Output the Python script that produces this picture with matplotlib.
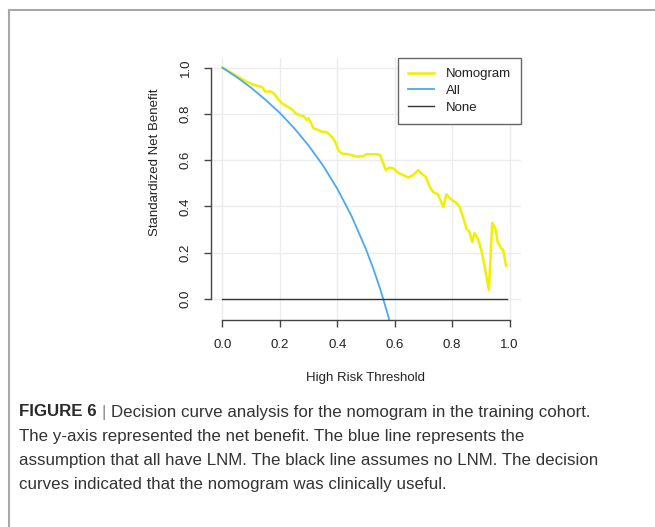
import numpy as np
import matplotlib
matplotlib.use("Agg")
import matplotlib.pyplot as plt

plt.rcParams['font.family'] = ['Liberation Sans', 'DejaVu Sans']

# nomogram curve
thr_nomo = [0.0, 0.086, 0.109, 0.138, 0.149, 0.167, 0.178, 0.196, 0.207, 0.225,
            0.242, 0.254, 0.271, 0.282, 0.294, 0.300, 0.317, 0.334, 0.346, 0.363,
            0.381, 0.392, 0.404, 0.415, 0.433, 0.450, 0.468, 0.491, 0.502, 0.520,
            0.537, 0.549, 0.560, 0.569, 0.581, 0.595, 0.612, 0.630, 0.647, 0.664,
            0.682, 0.693, 0.708, 0.722, 0.734, 0.751, 0.769, 0.780, 0.797, 0.815,
            0.826, 0.838, 0.850, 0.861, 0.870, 0.878, 0.890, 0.902, 0.913, 0.928,
            0.940, 0.951, 0.959, 0.970, 0.978, 0.988]
nb_nomo = [1.0, 0.938, 0.926, 0.916, 0.897, 0.897, 0.890, 0.861, 0.846, 0.832,
           0.820, 0.803, 0.793, 0.791, 0.774, 0.781, 0.738, 0.730, 0.723, 0.721,
           0.701, 0.680, 0.643, 0.629, 0.626, 0.622, 0.615, 0.618, 0.626, 0.625,
           0.626, 0.622, 0.586, 0.557, 0.568, 0.564, 0.545, 0.535, 0.525, 0.535,
           0.557, 0.542, 0.528, 0.484, 0.462, 0.452, 0.397, 0.452, 0.429, 0.415,
           0.397, 0.354, 0.303, 0.288, 0.245, 0.284, 0.259, 0.209, 0.143, 0.038,
           0.328, 0.303, 0.245, 0.220, 0.211, 0.143]

# treat-all curve
thr_all = [0.0, 0.05, 0.10, 0.15, 0.20, 0.25, 0.30, 0.35, 0.40, 0.45, 0.50,
           0.525, 0.55, 0.575, 0.60]
nb_all = [1.0, 0.959, 0.913, 0.861, 0.804, 0.738, 0.663, 0.577, 0.476, 0.357,
          0.214, 0.132, 0.040, -0.064, -0.179]

# treat-none
thr_none = [0.0, 0.99]
nb_none = [0.0, 0.0]

ticks = [0.0, 0.2, 0.4, 0.6, 0.8, 1.0]
tick_labels = ["0.0", "0.2", "0.4", "0.6", "0.8", "1.0"]

W, H = 655, 527
fig = plt.figure(figsize=(W / 100, H / 100), dpi=100)

ax = fig.add_axes([211 / W, 1 - 320 / H, 310 / W, 262 / H])
ax.set_xlim(-0.04, 1.04)
ax.set_ylim(-0.092, 1.042)

for t in ticks:
    ax.axvline(t, color='#ececec', lw=1.0, zorder=0)
    ax.axhline(t, color='#ececec', lw=1.0, zorder=0)

ax.plot(thr_nomo, nb_nomo, color='#f2ef00', lw=1.8, label='Nomogram')
ax.plot(thr_all, nb_all, color='#4aa8f5', lw=1.3, label='All')
ax.plot(thr_none, nb_none, color='#333333', lw=1.0, label='None')

# R-style detached axes
ax.spines['top'].set_visible(False)
ax.spines['right'].set_visible(False)
ax.spines['left'].set_bounds(0, 1)
ax.spines['bottom'].set_bounds(0, 1)
for s in ['left', 'bottom']:
    ax.spines[s].set_color('#444444')
    ax.spines[s].set_linewidth(1.0)

ax.set_xticks(ticks)
ax.set_xticklabels(tick_labels)
ax.set_yticks(ticks)
ax.set_yticklabels(tick_labels, rotation=90, va='center')
ax.tick_params(length=5, width=1.0, color='#444444', labelsize=9.5,
               labelcolor='#222222', pad=9)

fig.text(366 / W, 1 - 378 / H, 'High Risk Threshold', ha='center', va='center',
         fontsize=9.5, color='#222222')
fig.text(155 / W, 1 - 162 / H, 'Standardized Net Benefit', ha='center',
         va='center', rotation=90, fontsize=9.5, color='#222222')

leg = ax.legend(loc='upper right', borderaxespad=0, fancybox=False,
                fontsize=9.5, handlelength=2.0, handletextpad=0.9,
                labelspacing=0.35, borderpad=0.75, framealpha=1)
leg.get_frame().set_edgecolor('#666666')
leg.get_frame().set_linewidth(1.0)
for txt in leg.get_texts():
    txt.set_color('#222222')

# figure frame (top and left only)
fig.add_artist(plt.Line2D([9 / W, 654 / W], [1 - 10 / H, 1 - 10 / H],
                          color='#a8a8a8', lw=1.5))
fig.add_artist(plt.Line2D([9 / W, 9 / W], [1 - 10 / H, 0],
                          color='#a8a8a8', lw=1.5))

# caption
cap_lines = [
    "Decision curve analysis for the nomogram in the training cohort.",
    "The y-axis represented the net benefit. The blue line represents the",
    "assumption that all have LNM. The black line assumes no LNM. The decision",
    "curves indicated that the nomogram was clinically useful.",
]
cap_y = [412, 436, 460, 484]
cap_size = 12.2
x0 = 19 / W

bold = fig.text(x0, 1 - cap_y[0] / H, "FIGURE 6", fontsize=cap_size,
                fontweight='bold', color='#2a2a2a', va='center')
fig.canvas.draw()
r = fig.canvas.get_renderer()
bb = bold.get_window_extent(r)
xb = bb.x1 / W
bar = fig.text(xb + 5 / W, 1 - cap_y[0] / H, "|", fontsize=cap_size,
               color='#888888', va='center')
bb2 = bar.get_window_extent(r)
fig.text(bb2.x1 / W + 5 / W, 1 - cap_y[0] / H, cap_lines[0], fontsize=cap_size,
         color='#333333', va='center')
for line, y in zip(cap_lines[1:], cap_y[1:]):
    fig.text(x0, 1 - y / H, line, fontsize=cap_size, color='#333333', va='center')

fig.savefig('out.png', dpi=100)
